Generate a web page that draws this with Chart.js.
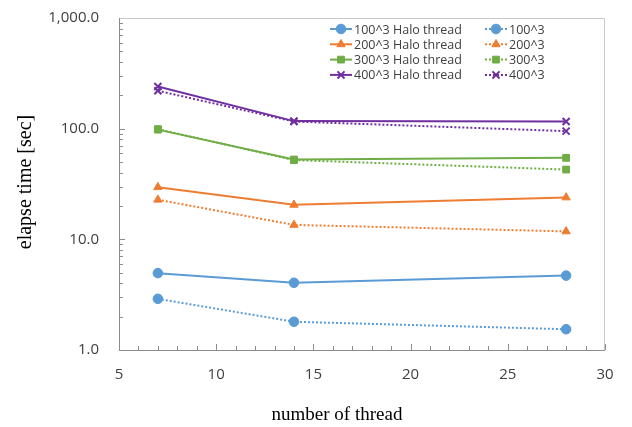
<!DOCTYPE html>
<html lang="en">
<head>
  <meta charset="UTF-8" />
  <title>elapse time vs number of thread</title>
  <script src="https://cdn.jsdelivr.net/npm/chart.js"></script>
  <style>
    body { margin: 0; background: #ffffff; }
    #wrap { width: 632px; height: 427px; }
  </style>
</head>
<body>
  <div id="wrap"><canvas id="chart" width="632" height="427"></canvas></div>

  <script>
    // dati
    const threads = [7, 14, 28];
    const halo100 = [4.95, 4.05, 4.7];
    const plain100 = [2.9, 1.8, 1.54];
    const halo200 = [29.6, 20.5, 23.9];
    const plain200 = [22.8, 13.5, 11.8];
    const halo300 = [98, 52.6, 54.5];
    const plain300 = [99, 52, 42.7];
    const halo400 = [240, 117, 116];
    const plain400 = [220, 116, 95];

    const xTicks = [5, 10, 15, 20, 25, 30];
    const yTicks = [1, 10, 100, 1000];
    const xTitle = "number of thread";
    const yTitle = "elapse time [sec]";

    const series = [
      { label: "100^3 Halo thread", data: halo100, color: "#5b9bd5", style: "circle", dotted: false },
      { label: "100^3", data: plain100, color: "#5b9bd5", style: "circle", dotted: true },
      { label: "200^3 Halo thread", data: halo200, color: "#ed7d31", style: "triangle", dotted: false },
      { label: "200^3", data: plain200, color: "#ed7d31", style: "triangle", dotted: true },
      { label: "300^3 Halo thread", data: halo300, color: "#70ad47", style: "rect", dotted: false },
      { label: "300^3", data: plain300, color: "#70ad47", style: "rect", dotted: true },
      { label: "400^3 Halo thread", data: halo400, color: "#7030a0", style: "crossRot", dotted: false },
      { label: "400^3", data: plain400, color: "#7030a0", style: "crossRot", dotted: true }
    ];

    const datasets = series.map(s => ({
      label: s.label,
      data: s.data.map((v, i) => ({ x: threads[i], y: v })),
      borderColor: s.color,
      backgroundColor: s.color,
      borderWidth: 2,
      borderDash: s.dotted ? [2, 2] : [],
      pointStyle: s.style,
      pointRadius: s.style === "crossRot" ? 5 : 4.8,
      pointBorderColor: s.color,
      pointBackgroundColor: s.color,
      pointBorderWidth: s.style === "crossRot" ? 2 : 1,
      fill: false,
      tension: 0
    }));

    // cornice, tacche interne, titoli assi e legenda a due colonne
    const decorazioni = {
      id: "decorazioni",
      afterDraw(chart) {
        const ctx = chart.ctx;
        const a = chart.chartArea;
        const xs = chart.scales.x, ys = chart.scales.y;
        ctx.save();
        ctx.strokeStyle = "#c8c8c8";
        ctx.lineWidth = 1;
        ctx.beginPath();
        ctx.moveTo(a.left, a.top + 0.5);
        ctx.lineTo(a.right - 0.5, a.top + 0.5);
        ctx.lineTo(a.right - 0.5, a.bottom);
        ctx.stroke();

        ctx.strokeStyle = "#8c8c8c";
        ctx.beginPath();
        ctx.moveTo(a.left + 0.5, a.top);
        ctx.lineTo(a.left + 0.5, a.bottom + 0.5);
        ctx.lineTo(a.right, a.bottom + 0.5);
        ctx.stroke();

        ctx.beginPath();
        for (let v = 5; v <= 30; v++) {
          const px = Math.round(xs.getPixelForValue(v)) + 0.5;
          const len = v % 5 === 0 ? 6 : 4;
          ctx.moveTo(px, a.bottom);
          ctx.lineTo(px, a.bottom - len);
        }
        for (let d = 1; d < 1000; d *= 10) {
          for (let k = 1; k <= 9; k++) {
            const py = Math.round(ys.getPixelForValue(d * k)) + 0.5;
            const len = k === 1 ? 6 : 4;
            ctx.moveTo(a.left, py);
            ctx.lineTo(a.left + len, py);
          }
        }
        ctx.stroke();

        // titoli assi
        ctx.fillStyle = "#000000";
        ctx.textAlign = "center";
        ctx.textBaseline = "middle";
        ctx.font = "19px 'Liberation Serif', serif";
        ctx.fillText(xTitle, 337, 415);
        ctx.save();
        ctx.translate(26, 182);
        ctx.rotate(-Math.PI / 2);
        ctx.font = "20px 'Liberation Serif', serif";
        ctx.fillText(yTitle, 0, 0);
        ctx.restore();

        // legenda
        ctx.textAlign = "left";
        ctx.font = "12.5px 'Open Sans', sans-serif";
        chart.data.datasets.forEach((ds, i) => {
          const col = i % 2, row = Math.floor(i / 2);
          const x0 = col === 0 ? 330 : 485;
          const y0 = 29 + row * 15.3;
          ctx.strokeStyle = ds.borderColor;
          ctx.lineWidth = 2;
          ctx.setLineDash(ds.borderDash);
          ctx.beginPath();
          ctx.moveTo(x0, y0);
          ctx.lineTo(x0 + 22, y0);
          ctx.stroke();
          ctx.setLineDash([]);
          ctx.fillStyle = ds.pointBackgroundColor;
          ctx.strokeStyle = ds.pointBorderColor;
          ctx.lineWidth = ds.pointBorderWidth;
          Chart.helpers.drawPoint(ctx, {
            pointStyle: ds.pointStyle,
            radius: ds.pointRadius,
            rotation: 0,
            borderWidth: ds.pointBorderWidth
          }, x0 + 11, y0);
          ctx.fillStyle = "#404040";
          ctx.fillText(ds.label, x0 + 24, y0 + 1);
        });
        ctx.restore();
      }
    };

    new Chart(document.getElementById("chart"), {
      type: "line",
      data: { datasets: datasets },
      options: {
        responsive: false,
        animation: false,
        layout: { padding: { top: 18, right: 27, left: 0, bottom: 0 } },
        plugins: {
          legend: { display: false },
          tooltip: { enabled: false }
        },
        scales: {
          x: {
            type: "linear",
            min: 5,
            max: 30,
            afterBuildTicks: s => { s.ticks = xTicks.map(v => ({ value: v })); },
            afterFit: s => { s.height = 77; s.paddingLeft = 0; s.paddingRight = 0; },
            grid: { display: false, drawTicks: false },
            border: { display: false },
            ticks: {
              padding: 16,
              color: "#404040",
              font: { family: "'Open Sans', sans-serif", size: 15 }
            }
          },
          y: {
            type: "logarithmic",
            min: 1,
            max: 1000,
            afterBuildTicks: s => { s.ticks = yTicks.map(v => ({ value: v })); },
            afterFit: s => { s.width = 119; s.paddingTop = 0; s.paddingBottom = 0; },
            grid: { display: false, drawTicks: false },
            border: { display: false },
            ticks: {
              padding: 20,
              color: "#404040",
              font: { family: "'Open Sans', sans-serif", size: 15 },
              callback: v => Number(v).toLocaleString("en-US", { minimumFractionDigits: 1, maximumFractionDigits: 1 })
            }
          }
        }
      },
      plugins: [decorazioni]
    });
  </script>
</body>
</html>
